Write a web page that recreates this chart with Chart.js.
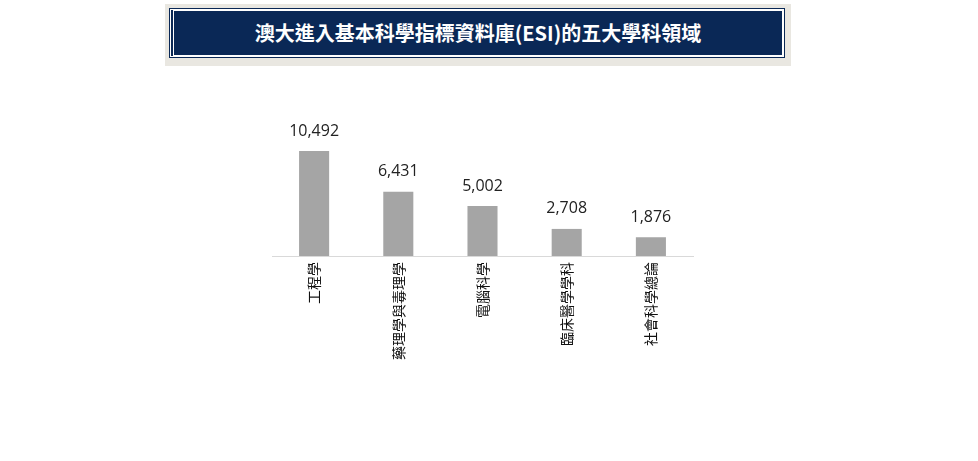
<!DOCTYPE html>
<html><head><meta charset="utf-8">
<script src="https://cdn.jsdelivr.net/npm/chart.js@4"></script>
<style>
body{margin:0;background:#fff;width:978px;height:461px;overflow:hidden;position:relative;font-family:'Noto Sans CJK TC',sans-serif}
#tb{position:absolute;left:165px;top:4px;width:618px;height:54px;background:#e9e7e1;padding:4px}
#ti{width:612px;height:48px;border:1px solid #0a2856;box-shadow:inset 0 0 0 1px #fff;background:#0a2856;outline:none;color:#fff;font-weight:bold;font-size:20px;line-height:48px;text-align:center;padding-left:2px}
#ti span{display:block;border:1px solid #fff;margin:1px;height:44px;line-height:44px}
#c{position:absolute;left:0;top:0}
</style></head><body>
<div id="tb"><div id="ti"><span>澳大進入基本科學指標資料庫(ESI)的五大學科領域</span></div></div>
<canvas id="c" width="978" height="461"></canvas>
<script>
const categories=['工程學','藥理學與毒理學','電腦科學','臨床醫學學科','社會科學總論'];
const values=[10492,6431,5002,2708,1876];
const labelsPlugin={id:'lbl',afterDatasetsDraw(ch){const c=ch.ctx;const m=ch.getDatasetMeta(0);c.save();c.font='16px "Open Sans", sans-serif';c.fillStyle='#222';c.textAlign='center';c.textBaseline='middle';
m.data.forEach((b,i)=>c.fillText(values[i].toLocaleString('en-US'),b.x,b.y-20));c.restore();}};
new Chart(document.getElementById('c'),{type:'bar',
data:{labels:categories,datasets:[{data:values,backgroundColor:'#a5a5a5',categoryPercentage:1,barPercentage:0.357}]},
options:{responsive:false,animation:false,devicePixelRatio:1,
layout:{padding:{left:272,right:285,top:136,bottom:0}},
plugins:{legend:{display:false},tooltip:{enabled:false}},
scales:{y:{display:false,min:0,max:12000},
x:{afterFit(s){s.height=205;},grid:{display:false,drawTicks:false},border:{color:'#d9d9d9'},
ticks:{minRotation:90,maxRotation:90,padding:6,color:'#111',font:{size:14,family:'"Noto Sans CJK TC"'}}}}},
plugins:[labelsPlugin]});
</script></body></html>
